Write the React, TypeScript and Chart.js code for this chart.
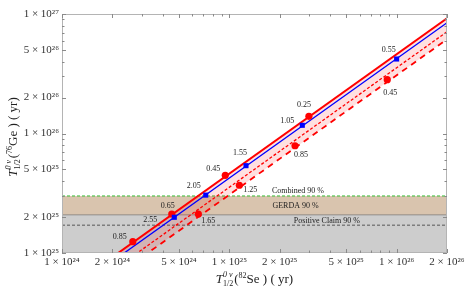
import React, { useEffect, useRef } from "react";
import { Chart, registerables } from "chart.js";

Chart.register(...registerables);

// ---- axis ticks ----
const xTickValues = [1e24, 2e24, 5e24, 1e25, 2e25, 5e25, 1e26, 2e26];
const xTickLabels = ["1 × 10²⁴", "2 × 10²⁴", "5 × 10²⁴", "1 × 10²⁵", "2 × 10²⁵", "5 × 10²⁵", "1 × 10²⁶", "2 × 10²⁶"];
const yTickValues = [1e25, 2e25, 5e25, 1e26, 2e26, 5e26, 1e27];
const yTickLabels = ["1 × 10²⁵", "2 × 10²⁵", "5 × 10²⁵", "1 × 10²⁶", "2 × 10²⁶", "5 × 10²⁶", "1 × 10²⁷"];
const xMinorTicks = [3e24, 4e24, 6e24, 7e24, 8e24, 9e24, 3e25, 4e25, 6e25, 7e25, 8e25, 9e25];
const yMinorTicks = [3e25, 4e25, 6e25, 7e25, 8e25, 9e25, 3e26, 4e26, 6e26, 7e26, 8e26, 9e26];

// ---- blue squares ----
const blueLabels = ["2.55", "2.05", "1.55", "1.05", "0.55"];
const blueSe = [4.69e24, 7.23e24, 1.258e25, 2.73e25, 1.0e26];
const blueGe = [1.99e25, 3.05e25, 5.38e25, 1.171e26, 4.2e26];

// ---- red circles ----
const redLabels = ["0.85", "0.65", "0.45", "0.25", "1.65", "1.25", "0.85", "0.45"];
const redSe = [2.65e24, 4.53e24, 9.46e24, 2.99e25, 6.53e24, 1.148e25, 2.47e25, 8.79e25];
const redGe = [1.243e25, 2.12e25, 4.47e25, 1.393e26, 2.12e25, 3.69e25, 7.9e25, 2.82e26];

// ---- diagonal lines (end points) ----
const lineSe = [1e24, 2e26];
const redSolidGe = [4.62e24, 9.2e26];
const blueLineGe = [4.25e24, 8.45e26];
const redDottedGe = [3.55e24, 7.1e26];
const redDashedGe = [3.07e24, 6.14e26];

// ---- horizontal limits ----
const bandSe = [1e24, 2e26];
const combinedGe = 3.0e25;
const gerdaGe = 2.1e25;
const positiveClaimGe = 1.71e25;
const bandTexts = ["Combined 90 %", "GERDA 90 %", "Positive Claim 90 %"];

// label placement (pixel offsets from the marker)
const blueLabelOffsets = [[-24, 3], [-12, -9], [-6, -13], [-15, -4], [-8, -9]];
const redLabelOffsets = [[-13, -5], [-4, -8], [-12, -6], [-5, -11], [10, 7], [11, 5], [6, 9], [3, 13]];

const SERIF = '"Liberation Serif", "Times New Roman", serif';

function pts(xs: number[], ys: number[]) {
  return xs.map((x, i) => ({ x, y: ys[i] }));
}

function drawTitle(ctx: CanvasRenderingContext2D, cx: number, cy: number, rotate: boolean, iso: string, el: string) {
  const big = `13px ${SERIF}`;
  const bigI = `italic 13px ${SERIF}`;
  const small = `8px ${SERIF}`;
  const smallI = `italic 8px ${SERIF}`;
  ctx.save();
  ctx.translate(cx, cy);
  if (rotate) ctx.rotate(-Math.PI / 2);
  ctx.textBaseline = "alphabetic";
  ctx.textAlign = "left";
  ctx.fillStyle = "#222";
  ctx.font = bigI;
  const wT = ctx.measureText("T").width;
  ctx.font = smallI;
  const wSup = ctx.measureText("0 ν").width;
  ctx.font = small;
  const wSub = ctx.measureText("1/2").width;
  const wScript = Math.max(wSup, wSub) + 1;
  ctx.font = big;
  const wOpen = ctx.measureText("(").width;
  ctx.font = small;
  const wIso = ctx.measureText(iso).width;
  ctx.font = big;
  const rest = `${el} ) ( yr)`;
  const wRest = ctx.measureText(rest).width;
  const total = wT + wScript + wOpen + wIso + wRest;
  let x = -total / 2;
  const base = 4;
  ctx.font = bigI;
  ctx.fillText("T", x, base);
  x += wT;
  ctx.font = smallI;
  ctx.fillText("0 ν", x, base - 6);
  ctx.font = small;
  ctx.fillText("1/2", x, base + 3);
  x += wScript;
  ctx.font = big;
  ctx.fillText("(", x, base);
  x += wOpen;
  ctx.font = small;
  ctx.fillText(iso, x, base - 5);
  x += wIso;
  ctx.font = big;
  ctx.fillText(rest, x, base);
  ctx.restore();
}

const decorPlugin = {
  id: "decor",
  afterDatasetsDraw(chart: any) {
    const { ctx, chartArea: a, scales } = chart;
    const xs = scales.x;
    const ys = scales.y;
    ctx.save();
    ctx.strokeStyle = "#b4b4b4";
    ctx.lineWidth = 1;
    ctx.strokeRect(Math.round(a.left) + 0.5, Math.round(a.top) + 0.5, Math.round(a.right - a.left) - 1, Math.round(a.bottom - a.top) - 1);
    ctx.strokeStyle = "#8a8a8a";
    const xt = [...xTickValues.map((v) => [v, 4]), ...xMinorTicks.map((v) => [v, 2.5])];
    xt.forEach(([v, len]) => {
      const p = Math.round(xs.getPixelForValue(v)) + 0.5;
      ctx.beginPath();
      ctx.moveTo(p, a.bottom);
      ctx.lineTo(p, a.bottom - len);
      ctx.moveTo(p, a.top);
      ctx.lineTo(p, a.top + len);
      ctx.stroke();
    });
    const yt = [...yTickValues.map((v) => [v, 4]), ...yMinorTicks.map((v) => [v, 2.5])];
    yt.forEach(([v, len]) => {
      const p = Math.round(ys.getPixelForValue(v)) + 0.5;
      ctx.beginPath();
      ctx.moveTo(a.left, p);
      ctx.lineTo(a.left + len, p);
      ctx.moveTo(a.right, p);
      ctx.lineTo(a.right - len, p);
      ctx.stroke();
    });

    ctx.fillStyle = "#222";
    ctx.font = `8px ${SERIF}`;
    ctx.textAlign = "center";
    ctx.textBaseline = "middle";
    blueLabels.forEach((t, i) => {
      ctx.fillText(t, xs.getPixelForValue(blueSe[i]) + blueLabelOffsets[i][0], ys.getPixelForValue(blueGe[i]) + blueLabelOffsets[i][1]);
    });
    redLabels.forEach((t, i) => {
      ctx.fillText(t, xs.getPixelForValue(redSe[i]) + redLabelOffsets[i][0], ys.getPixelForValue(redGe[i]) + redLabelOffsets[i][1]);
    });

    ctx.textAlign = "left";
    const yc = ys.getPixelForValue(combinedGe);
    const yg = ys.getPixelForValue(gerdaGe);
    const yp = ys.getPixelForValue(positiveClaimGe);
    ctx.fillText(bandTexts[0], xs.getPixelForValue(1.8e25), yc - 5);
    ctx.fillText(bandTexts[1], xs.getPixelForValue(1.81e25), (yc + yg) / 2 + 0.5);
    ctx.fillText(bandTexts[2], xs.getPixelForValue(2.43e25), yp - 4.5);
    ctx.restore();
  },
  afterDraw(chart: any) {
    const { ctx, chartArea: a } = chart;
    drawTitle(ctx, (a.left + a.right) / 2, 279, false, "82", "Se");
    drawTitle(ctx, 13, 137, true, "76", "Ge");
  },
};

export default function App() {
  const ref = useRef<HTMLCanvasElement | null>(null);
  useEffect(() => {
    if (!ref.current) return;
    const red = "#ff0000";
    const blue = "#0000ff";
    const chart = new Chart(ref.current, {
      type: "scatter",
      data: {
        datasets: [
          {
            label: "blue squares",
            data: pts(blueSe, blueGe),
            showLine: false,
            pointStyle: "rect",
            pointRadius: 3.6,
            backgroundColor: blue,
            borderColor: blue,
            borderWidth: 0,
            order: 0,
          },
          {
            label: "red circles",
            data: pts(redSe, redGe),
            showLine: false,
            pointStyle: "circle",
            pointRadius: 3.6,
            backgroundColor: red,
            borderColor: red,
            borderWidth: 0,
            order: 0,
          },
          {
            label: "red solid",
            data: pts(lineSe, redSolidGe),
            showLine: true,
            pointRadius: 0,
            borderColor: red,
            borderWidth: 2,
            fill: 5,
            backgroundColor: "rgba(255,0,0,0.12)",
            order: 2,
          },
          {
            label: "blue line",
            data: pts(lineSe, blueLineGe),
            showLine: true,
            pointRadius: 0,
            borderColor: blue,
            borderWidth: 1.3,
            order: 1,
          },
          {
            label: "red dotted",
            data: pts(lineSe, redDottedGe),
            showLine: true,
            pointRadius: 0,
            borderColor: red,
            borderWidth: 1.3,
            borderDash: [3, 2],
            order: 2,
          },
          {
            label: "red dashed",
            data: pts(lineSe, redDashedGe),
            showLine: true,
            pointRadius: 0,
            borderColor: red,
            borderWidth: 1.8,
            borderDash: [6, 5],
            order: 3,
          },
          {
            label: "Combined",
            data: pts(bandSe, [combinedGe, combinedGe]),
            showLine: true,
            pointRadius: 0,
            borderColor: "#33bb33",
            borderWidth: 1,
            borderDash: [3, 2],
            fill: 7,
            backgroundColor: "#d9c4ae",
            order: 6,
          },
          {
            label: "GERDA",
            data: pts(bandSe, [gerdaGe, gerdaGe]),
            showLine: true,
            pointRadius: 0,
            borderColor: "#7a7a7a",
            borderWidth: 1.5,
            fill: "start",
            backgroundColor: "#cdcdcd",
            order: 7,
          },
          {
            label: "Positive claim",
            data: pts(bandSe, [positiveClaimGe, positiveClaimGe]),
            showLine: true,
            pointRadius: 0,
            borderColor: "#555555",
            borderWidth: 1,
            borderDash: [3, 2],
            order: 5,
          },
        ],
      },
      options: {
        animation: false,
        responsive: false,
        devicePixelRatio: 1,
        layout: { padding: { top: 14, right: 21, left: 0, bottom: 0 } },
        plugins: { legend: { display: false }, tooltip: { enabled: false } },
        scales: {
          x: {
            type: "logarithmic",
            min: 1e24,
            max: 2e26,
            grid: { display: false, drawTicks: false },
            border: { display: false },
            afterBuildTicks: (s: any) => {
              s.ticks = xTickValues.map((v) => ({ value: v }));
            },
            afterFit: (s: any) => {
              s.height = 36;
            },
            ticks: {
              autoSkip: false,
              maxRotation: 0,
              padding: 3,
              color: "#333",
              font: { family: SERIF, size: 11 },
              callback: (v: any) => {
                const i = xTickValues.findIndex((t) => Math.abs(t - v) / t < 1e-6);
                return i >= 0 ? xTickLabels[i] : "";
              },
            },
          },
          y: {
            type: "logarithmic",
            min: 1e25,
            max: 1e27,
            grid: { display: false, drawTicks: false },
            border: { display: false },
            afterBuildTicks: (s: any) => {
              s.ticks = yTickValues.map((v) => ({ value: v }));
            },
            afterFit: (s: any) => {
              s.width = 62;
            },
            ticks: {
              autoSkip: false,
              padding: 3,
              color: "#333",
              font: { family: SERIF, size: 11 },
              callback: (v: any) => {
                const i = yTickValues.findIndex((t) => Math.abs(t - v) / t < 1e-6);
                return i >= 0 ? yTickLabels[i] : "";
              },
            },
          },
        },
      },
      plugins: [decorPlugin],
    } as any);
    return () => chart.destroy();
  }, []);
  return (
    <div style={{ position: "fixed", left: 0, top: 0, width: 468, height: 289, background: "#fff" }}>
      <canvas ref={ref} width={468} height={289} style={{ display: "block" }} />
    </div>
  );
}
